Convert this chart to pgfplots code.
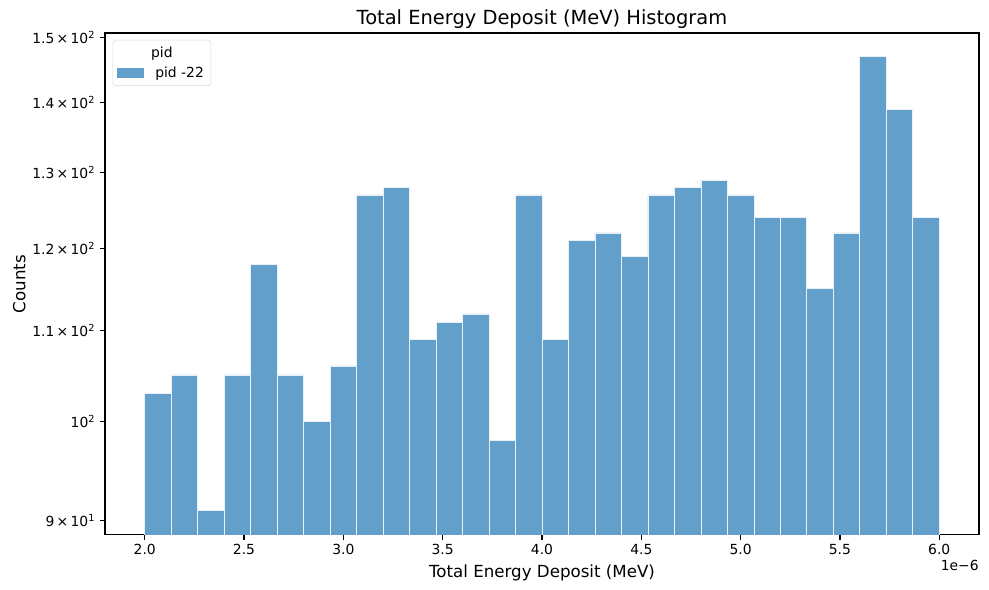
\documentclass[border=0pt]{standalone}
\usepackage{pgfplots}
\pgfplotsset{compat=1.18}
\usepackage{fontspec}
\setmainfont{DejaVu Sans}
\definecolor{barblue}{HTML}{62A0CB}
\begin{document}
\begin{tikzpicture}[x=1pt,y=1pt]
\path[use as bounding box] (-75.6pt,-39.6pt) rectangle (636.5pt,385.2pt);
\begin{axis}[
  at={(0pt,0pt)}, anchor=south west,
  scale only axis, width=629.3pt, height=361.4pt,
  ymode=log,
  xmin=1.8, xmax=6.2,
  ymin=88.67, ymax=150.7,
  xtick={2.0,2.5,3.0,3.5,4.0,4.5,5.0,5.5,6.0},
  xticklabels={2.0,2.5,3.0,3.5,4.0,4.5,5.0,5.5,6.0},
  ytick={90,100,110,120,130,140,150},
  yticklabels={9\,×\,10\textsuperscript{1},10\textsuperscript{2},1.1\,×\,10\textsuperscript{2},1.2\,×\,10\textsuperscript{2},1.3\,×\,10\textsuperscript{2},1.4\,×\,10\textsuperscript{2},1.5\,×\,10\textsuperscript{2}},
  yminorticks=false, xminorticks=false,
  tick align=outside, tick pos=left,
  major tick length=3.5pt,
  every tick/.style={black, line width=0.8pt},
  axis line style={line width=0.8pt},
  ticklabel style={font=\fontsize{10}{12}\selectfont},
  xlabel={Total Energy Deposit (MeV)},
  ylabel={Counts},
  xlabel style={font=\fontsize{12}{14}\selectfont, yshift=0pt},
  ylabel style={font=\fontsize{12}{14}\selectfont, yshift=-2pt},
  title={Total Energy Deposit (MeV) Histogram},
  title style={font=\fontsize{14}{17}\selectfont, yshift=-6pt},
  clip mode=individual,
  legend style={at={(rel axis cs:0,1)}, anchor=north west, xshift=5.5pt, yshift=-5pt,
    draw=black!15, rounded corners=2pt, font=\fontsize{10}{12}\selectfont,
    inner xsep=3pt, inner ysep=2.5pt, row sep=1.5pt},
  legend cell align=left,
]
\addlegendimage{empty legend}
\addlegendentry{\hspace*{-3pt}pid}
\addplot[ybar interval, fill=barblue, draw=white!85!barblue, line width=0.5pt,
  legend image code/.code={\fill[barblue, sharp corners] (0pt,-3.3pt) rectangle (18.7pt,3.3pt); \path (25pt,0pt);}]
coordinates {
(2.0000,103) (2.1333,105) (2.2667,91) (2.4000,105) (2.5333,118) (2.6667,105)
(2.8000,100) (2.9333,106) (3.0667,127) (3.2000,128) (3.3333,109) (3.4667,111)
(3.6000,112) (3.7333,98) (3.8667,127) (4.0000,109) (4.1333,121) (4.2667,122)
(4.4000,119) (4.5333,127) (4.6667,128) (4.8000,129) (4.9333,127) (5.0667,124)
(5.2000,124) (5.3333,115) (5.4667,122) (5.6000,147) (5.7333,139) (5.8667,124)
(6.0000,124)
};
\addlegendentry{pid -22}
\node[anchor=north east, font=\fontsize{10}{12}\selectfont, inner sep=0pt] at ([yshift=-18pt]rel axis cs:1,0) {1e−6};
\end{axis}
\end{tikzpicture}
\end{document}
